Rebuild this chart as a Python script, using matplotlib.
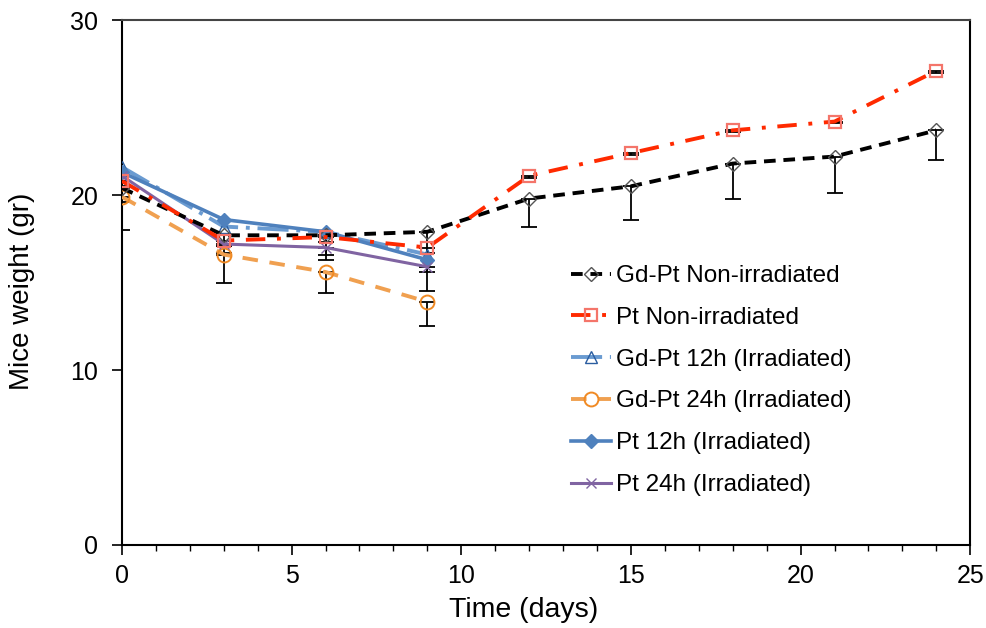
# Mice weight over time: recreation of the line chart with error bars

import numpy as np
import matplotlib.pyplot as plt
from matplotlib.ticker import MultipleLocator

plt.rcParams['font.family'] = ['Liberation Sans', 'DejaVu Sans']

# ------------------------------------------
# Data
# ------------------------------------------

days_long = [0, 3, 6, 9, 12, 15, 18, 21, 24]
days_short = [0, 3, 6, 9]

gdpt_non = [20.4, 17.7, 17.7, 17.9, 19.8, 20.5, 21.8, 22.2, 23.7]
gdpt_non_err = [2.4, 0.6, 1.4, 2.3, 1.6, 1.9, 2.0, 2.1, 1.7]

pt_non = [20.8, 17.4, 17.6, 17.0, 21.1, 22.4, 23.7, 24.2, 27.1]
pt_non_err = [0.3, 0.3, 0.3, 0.3, 0.1, 0.1, 0.1, 0.1, 0.1]

gdpt_12h = [21.6, 18.2, 17.9, 16.6]
gdpt_24h = [19.9, 16.6, 15.6, 13.9]
gdpt_24h_err = [0.3, 1.6, 1.2, 1.4]
pt_12h = [21.3, 18.6, 17.9, 16.3]
pt_24h = [21.1, 17.2, 17.0, 15.9]
pt_24h_err = [0.3, 0.5, 0.4, 1.4]

labels = [
    "Gd-Pt Non-irradiated",
    "Pt Non-irradiated",
    "Gd-Pt 12h (Irradiated)",
    "Gd-Pt 24h (Irradiated)",
    "Pt 12h (Irradiated)",
    "Pt 24h (Irradiated)",
]

# ------------------------------------------
# Figure
# ------------------------------------------

fig = plt.figure(figsize=(9.87, 6.28), dpi=100)
ax = fig.add_axes([0.1236, 0.1322, 0.8594, 0.8358])


def lower_err(vals):
    return [vals, np.zeros(len(vals))]


# error bars first (black, lower side only)
for xs, ys, err in [(days_long, gdpt_non, gdpt_non_err),
                    (days_long, pt_non, pt_non_err),
                    (days_short, gdpt_24h, gdpt_24h_err),
                    (days_short, pt_24h, pt_24h_err)]:
    ax.errorbar(xs, ys, yerr=lower_err(err), fmt="none", ecolor="black",
                elinewidth=1.3, capsize=6, capthick=1.3, zorder=2)

ax.plot(days_long, gdpt_non, color="black", lw=2.8, ls=(0, (3, 2)),
        marker="D", ms=7, mfc="none", mec="#555555", mew=1.0,
        label=labels[0], zorder=4)
ax.plot(days_long, pt_non, color="#FF2A00", lw=2.8, ls=(0, (5, 3, 1, 3)),
        marker="s", ms=8, mfc="none", mec="#F4756A", mew=1.6,
        label=labels[1], zorder=4)
ax.plot(days_short, gdpt_12h, color="#6A9BD1", lw=2.8, ls=(0, (8, 2, 1, 2)),
        marker="^", ms=8, mfc="none", mec="#2A5DA0", mew=1.0,
        label=labels[2], zorder=3)
ax.plot(days_short, gdpt_24h, color="#F0A050", lw=2.8, ls=(0, (4, 3)),
        marker="o", ms=10, mfc="none", mec="#F08A24", mew=1.4,
        label=labels[3], zorder=3)
ax.plot(days_short, pt_12h, color="#4F81BD", lw=2.6, ls="-",
        marker="D", ms=7, mfc="#4F81BD", mec="#4F81BD",
        label=labels[4], zorder=3)
ax.plot(days_short, pt_24h, color="#8064A2", lw=2.2, ls="-",
        marker="x", ms=7, mec="#8064A2", mew=1.0,
        label=labels[5], zorder=3)

# ------------------------------------------
# Axes styling
# ------------------------------------------

ax.set_xlim(0, 25)
ax.set_ylim(0, 30)
ax.xaxis.set_major_locator(MultipleLocator(5))
ax.xaxis.set_minor_locator(MultipleLocator(1))
ax.yaxis.set_major_locator(MultipleLocator(10))

ax.tick_params(axis="both", which="major", direction="out", length=7,
               width=1.2, labelsize=18)
ax.tick_params(axis="x", which="major", pad=7)
ax.tick_params(axis="y", which="major", pad=10)
ax.tick_params(axis="x", which="minor", direction="out", length=4, width=1.0)

for side in ["left", "bottom", "right"]:
    ax.spines[side].set_linewidth(1.5)
ax.spines["top"].set_linewidth(1.5)
ax.spines["top"].set_color("#444444")

ax.set_xlabel("Time (days)", fontsize=20.5)
ax.set_ylabel("Mice weight (gr)", fontsize=20)
ax.xaxis.set_label_coords(0.473, -0.099)
ax.yaxis.set_label_coords(-0.103, 0.484)

ax.legend(loc="upper left", bbox_to_anchor=(554 / 987, 1 - 248 / 628),
          bbox_transform=fig.transFigure, frameon=False, fontsize=17.5,
          handlelength=1.65, handletextpad=0.2, labelspacing=0.815,
          borderpad=0.2)

fig.savefig("out.png", dpi=100)
